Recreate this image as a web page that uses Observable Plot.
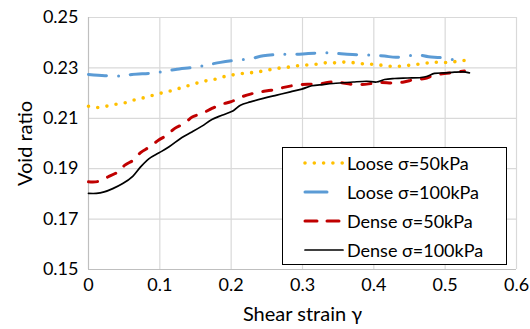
<!DOCTYPE html>
<html>
<head>
<meta charset="utf-8">
<script src="https://cdn.jsdelivr.net/npm/d3@7"></script>
<script src="https://cdn.jsdelivr.net/npm/@observablehq/plot@0.6"></script>
<style>
  body { margin: 0; background: #fff; }
  #wrap { position: relative; width: 530px; height: 329px; font-family: Lato, "Open Sans", sans-serif; }
  #legend { position: absolute; left: 282px; top: 147px; width: 223px; height: 116px; border: 1px solid #000; background: #fff; box-sizing: content-box; }
  .row { position: absolute; left: 20px; height: 24px; display: flex; align-items: center; font-size: 18px; color: #000; white-space: nowrap; }
  .row svg { margin-right: 2px; }
</style>
</head>
<body>
<div id="wrap"><div id="chart"></div><div id="legend"></div></div>
<script>
// ---- data ----
const seriesNames = ["Loose σ=50kPa", "Loose σ=100kPa", "Dense σ=50kPa", "Dense σ=100kPa"];

const loose50Strain = [0, 0.013, 0.025, 0.037, 0.05, 0.062, 0.074, 0.086, 0.099, 0.111, 0.123, 0.135, 0.147, 0.159, 0.171, 0.183, 0.196, 0.208, 0.221, 0.233, 0.245, 0.258, 0.27, 0.283, 0.295, 0.307, 0.32, 0.332, 0.344, 0.357, 0.37, 0.382, 0.394, 0.407, 0.42, 0.432, 0.445, 0.457, 0.47, 0.482, 0.494, 0.507, 0.52, 0.534];
const loose50Void   = [0.2148, 0.2143, 0.2148, 0.2155, 0.2161, 0.2171, 0.2179, 0.2188, 0.2198, 0.2206, 0.2215, 0.2226, 0.2235, 0.2246, 0.2251, 0.2259, 0.2270, 0.2274, 0.2280, 0.2282, 0.2288, 0.2295, 0.2300, 0.2304, 0.2309, 0.2312, 0.2315, 0.2320, 0.2320, 0.2323, 0.2321, 0.2317, 0.2315, 0.2312, 0.2307, 0.2306, 0.2309, 0.2313, 0.2317, 0.2323, 0.2321, 0.2323, 0.2327, 0.2333];

const loose100Strain = [0, 0.023, 0.045, 0.061, 0.091, 0.107, 0.122, 0.152, 0.168, 0.185, 0.205, 0.228, 0.245, 0.275, 0.292, 0.308, 0.338, 0.354, 0.37, 0.4, 0.415, 0.431, 0.451, 0.461, 0.477, 0.493, 0.513, 0.523];
const loose100Void   = [0.2274, 0.2269, 0.2268, 0.2274, 0.2280, 0.2287, 0.2294, 0.2304, 0.2313, 0.2322, 0.2330, 0.2337, 0.2348, 0.2354, 0.2354, 0.2357, 0.2360, 0.2356, 0.2353, 0.2350, 0.2347, 0.2342, 0.2349, 0.2352, 0.2344, 0.2341, 0.2331, 0.2321];

const dense50Strain = [0, 0.013, 0.027, 0.041, 0.051, 0.064, 0.073, 0.086, 0.098, 0.11, 0.121, 0.134, 0.146, 0.159, 0.173, 0.187, 0.2, 0.213, 0.227, 0.241, 0.256, 0.271, 0.285, 0.299, 0.313, 0.327, 0.341, 0.352, 0.369, 0.383, 0.397, 0.41, 0.427, 0.442, 0.457, 0.471, 0.485, 0.499, 0.513, 0.527];
const dense50Void   = [0.1848, 0.1849, 0.1867, 0.1887, 0.1914, 0.1936, 0.1964, 0.1987, 0.2013, 0.2033, 0.2060, 0.2079, 0.2106, 0.2119, 0.2139, 0.2156, 0.2166, 0.2183, 0.2196, 0.2205, 0.2211, 0.2221, 0.2229, 0.2234, 0.2235, 0.2238, 0.2244, 0.2242, 0.2235, 0.2234, 0.2238, 0.2242, 0.2240, 0.2244, 0.2254, 0.2258, 0.2271, 0.2278, 0.2282, 0.2288];

const dense100Strain = [0, 0.011, 0.022, 0.034, 0.048, 0.062, 0.073, 0.085, 0.099, 0.113, 0.131, 0.145, 0.159, 0.173, 0.187, 0.203, 0.213, 0.227, 0.245, 0.264, 0.283, 0.299, 0.313, 0.329, 0.343, 0.357, 0.371, 0.39, 0.404, 0.415, 0.429, 0.447, 0.466, 0.475, 0.485, 0.499, 0.513, 0.525, 0.534];
const dense100Void   = [0.1802, 0.1802, 0.1808, 0.1821, 0.1841, 0.1870, 0.1907, 0.1940, 0.1963, 0.1987, 0.2024, 0.2046, 0.2069, 0.2095, 0.2112, 0.2130, 0.2152, 0.2165, 0.2179, 0.2192, 0.2205, 0.2216, 0.2229, 0.2234, 0.2238, 0.2241, 0.2244, 0.2247, 0.2244, 0.2254, 0.2258, 0.2260, 0.2262, 0.2267, 0.2278, 0.2280, 0.2283, 0.2284, 0.2280];

const xTicks = [0, 0.1, 0.2, 0.3, 0.4, 0.5, 0.6];
const xTickLabels = ["0", "0.1", "0.2", "0.3", "0.4", "0.5", "0.6"];
const yTicks = [0.15, 0.17, 0.19, 0.21, 0.23, 0.25];
const yTickLabels = ["0.15", "0.17", "0.19", "0.21", "0.23", "0.25"];
const xTitle = "Shear strain γ";
const yTitle = "Void ratio";

// ---- styles ----
const styles = [
  {stroke: "#FFC000", strokeWidth: 3.6, strokeDasharray: "0 9.3", strokeLinecap: "round"},
  {stroke: "#5B9BD5", strokeWidth: 3, strokeDasharray: "18 12 0 12", strokeLinecap: "round"},
  {stroke: "#C00000", strokeWidth: 3, strokeDasharray: "9 11", strokeLinecap: "round"},
  {stroke: "#000000", strokeWidth: 1.7, strokeDasharray: null, strokeLinecap: "round"}
];
const strains = [loose50Strain, loose100Strain, dense50Strain, dense100Strain];
const voids = [loose50Void, loose100Void, dense50Void, dense100Void];
const tables = strains.map((xs, i) => xs.map((x, j) => ({x, y: voids[i][j]})));

const fmt = (arr, labels) => d => labels[arr.indexOf(d)];

const chart = Plot.plot({
  width: 530,
  height: 329,
  marginLeft: 88,
  marginRight: 14,
  marginTop: 17,
  marginBottom: 60,
  style: {fontFamily: "Lato, 'Open Sans', sans-serif", fontSize: "18px", color: "#000", background: "#fff"},
  x: {domain: [0, 0.6]},
  y: {domain: [0.15, 0.25]},
  marks: [
    Plot.gridX(xTicks.slice(1), {stroke: "#d9d9d9", strokeOpacity: 1, strokeWidth: 1.2}),
    Plot.gridY(yTicks.slice(1), {stroke: "#d9d9d9", strokeOpacity: 1, strokeWidth: 1.2}),
    Plot.ruleX([0], {stroke: "#bfbfbf", strokeWidth: 1.2}),
    Plot.ruleY([0.15], {stroke: "#bfbfbf", strokeWidth: 1.2}),
    Plot.axisX(xTicks, {tickSize: 0, tickPadding: 9, tickFormat: fmt(xTicks, xTickLabels), fontSize: 18,
      label: xTitle, labelAnchor: "center", labelArrow: "none", labelOffset: 51}),
    Plot.axisY(yTicks, {tickSize: 0, tickPadding: 10, tickFormat: fmt(yTicks, yTickLabels), fontSize: 18,
      label: yTitle, labelAnchor: "center", labelArrow: "none", labelOffset: 71}),
    ...tables.map((t, i) => Plot.line(t, {x: "x", y: "y", curve: "catmull-rom", ...styles[i]}))
  ]
});
// enlarge axis titles to match the reference
d3.select(chart).selectAll('g[aria-label="x-axis label"], g[aria-label="y-axis label"]')
  .attr("font-size", 20)
  .selectAll("text").attr("font-size", 20);
document.getElementById("chart").appendChild(chart);

// ---- legend ----
const legend = document.getElementById("legend");
const rowTops = [3, 32, 61, 90];
seriesNames.forEach((name, i) => {
  const s = styles[i];
  const row = document.createElement("div");
  row.className = "row";
  row.style.top = rowTops[i] + "px";
  const ns = "http://www.w3.org/2000/svg";
  const svg = document.createElementNS(ns, "svg");
  svg.setAttribute("width", 42); svg.setAttribute("height", 10);
  const ln = document.createElementNS(ns, "line");
  ln.setAttribute("x1", 2); ln.setAttribute("x2", 40); ln.setAttribute("y1", 5); ln.setAttribute("y2", 5);
  ln.setAttribute("stroke", s.stroke);
  ln.setAttribute("stroke-width", s.strokeWidth);
  ln.setAttribute("stroke-linecap", s.strokeLinecap);
  if (i === 0) ln.setAttribute("stroke-dasharray", "0 9.3");
  if (i === 1) { ln.setAttribute("x2", 36); ln.setAttribute("stroke-dasharray", "22 13 0 20"); }
  if (i === 2) ln.setAttribute("stroke-dasharray", "12 10");
  svg.appendChild(ln);
  row.appendChild(svg);
  const t = document.createElement("span");
  t.textContent = name;
  row.appendChild(t);
  legend.appendChild(row);
});
</script>
</body>
</html>
